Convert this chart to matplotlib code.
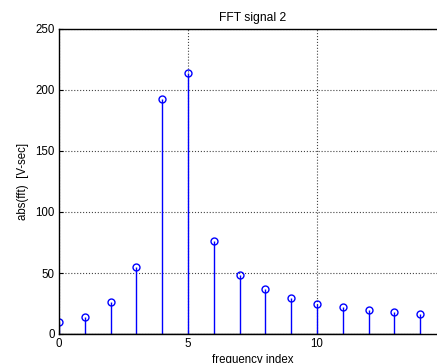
import matplotlib
matplotlib.use("Agg")
import matplotlib.pyplot as plt
import numpy as np

plt.rcParams['font.family'] = ['Liberation Sans', 'DejaVu Sans']

freq_index = list(range(15))
magnitude = [9.6, 14.2, 26.5, 55.2, 192.4, 213.7, 76.5, 48.6, 36.6, 29.5,
             24.9, 22.1, 19.9, 17.8, 16.1]
x_ticks = [0, 5, 10]
y_ticks = [0, 50, 100, 150, 200, 250]

fs = 8.3

fig = plt.figure(figsize=(4.37, 3.63), dpi=100)
# axes extend slightly past the right edge of the figure
ax = fig.add_axes([59 / 437, 1 - 334 / 363, (446 - 59) / 437, (334 - 29) / 363])

markerline, stemlines, baseline = ax.stem(freq_index, magnitude, basefmt='k-')
plt.setp(stemlines, color='#0000ff', linewidth=1.0)
plt.setp(markerline, color='#0000ff', marker='o', markerfacecolor='none',
         markersize=5, markeredgewidth=1.0)
plt.setp(baseline, linewidth=1.0)

ax.set_xlim(0, 15)
ax.set_ylim(0, 250)
ax.set_xticks(x_ticks)
ax.set_yticks(y_ticks)
ax.grid(True, linestyle=':', color='#444444', linewidth=0.8)
ax.set_axisbelow(True)
ax.tick_params(direction='in', labelsize=fs, length=3, pad=3)
for s in ax.spines.values():
    s.set_linewidth(1.0)

ax.set_title('FFT signal 2', fontsize=8.7, pad=6)
ax.set_xlabel('frequency index', fontsize=fs, labelpad=3)
ax.set_ylabel('abs(fft)  [V-sec]', fontsize=fs, labelpad=5)

fig.savefig('out.png', dpi=100)
